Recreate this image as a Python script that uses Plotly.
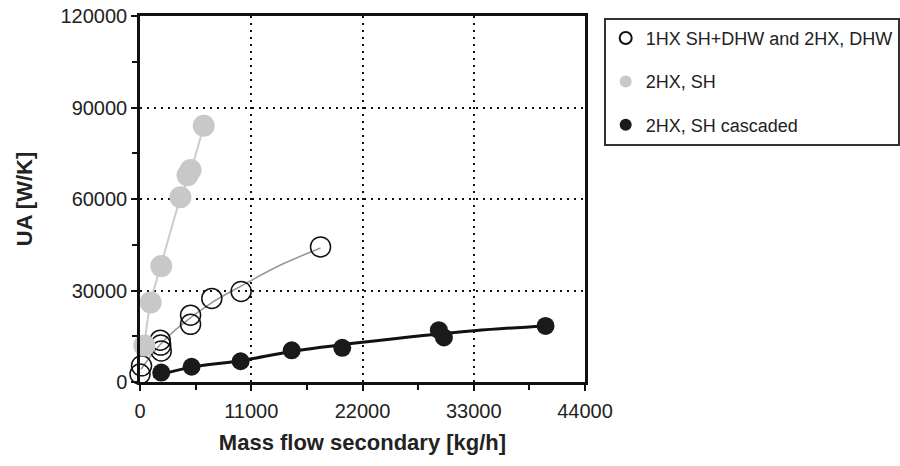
import plotly.graph_objects as go

# Data
open_x = [0, 150, 2000, 2050, 2100, 5000, 5000, 7100, 10000, 17850]
open_y = [2600, 5300, 13700, 12100, 10200, 21900, 18900, 27400, 29700, 44300]

gray_x = [430, 1050, 2100, 4000, 4700, 5000, 6300]
gray_y = [12000, 26100, 38000, 60600, 67800, 69500, 84000]

black_x = [2100, 5100, 9950, 15000, 20000, 29550, 30050, 40100]
black_y = [3100, 5000, 6800, 10400, 11200, 17000, 14600, 18400]

# Trend lines
open_trend_x = [100, 2000, 4000, 7000, 10000, 14000, 17850]
open_trend_y = [4200, 12300, 18500, 25800, 31500, 38500, 43900]
gray_trend_x = [430, 1050, 2100, 4000, 5000, 6300]
gray_trend_y = [12000, 26100, 38500, 60300, 69000, 84000]
black_trend_x = [1300, 5000, 10000, 15000, 22000, 33000, 40100]
black_trend_y = [1800, 4800, 7000, 10000, 13000, 16800, 18400]

names = ["1HX SH+DHW and 2HX, DHW", "2HX, SH", "2HX, SH cascaded"]
x_ticks = [0, 11000, 22000, 33000, 44000]
y_ticks = [0, 30000, 60000, 90000, 120000]

FONT = "Liberation Sans, Arial, sans-serif"

fig = go.Figure()
# trend lines
fig.add_trace(go.Scatter(x=open_trend_x, y=open_trend_y, mode="lines", line=dict(color="#999999", width=1.6, shape="spline"),
                         showlegend=False, hoverinfo="skip", cliponaxis=False))
fig.add_trace(go.Scatter(x=gray_trend_x, y=gray_trend_y, mode="lines", line=dict(color="#cccccc", width=2, shape="spline"),
                         showlegend=False, hoverinfo="skip", cliponaxis=False))
# markers
fig.add_trace(go.Scatter(x=open_x, y=open_y, mode="markers", name=names[0], legendgroup="a",
                         marker=dict(size=20, color="rgba(0,0,0,0)", line=dict(color="#111111", width=1.5)),
                         cliponaxis=False))
fig.add_trace(go.Scatter(x=gray_x, y=gray_y, mode="markers", name=names[1], legendgroup="b",
                         marker=dict(size=22, color="#c8c8c8", line=dict(width=0)), cliponaxis=False))
fig.add_trace(go.Scatter(x=black_trend_x, y=black_trend_y, mode="lines", line=dict(color="#111111", width=3, shape="spline"),
                         showlegend=False, hoverinfo="skip", cliponaxis=False))
fig.add_trace(go.Scatter(x=black_x, y=black_y, mode="markers", name=names[2], legendgroup="c",
                         marker=dict(size=18, color="#1a1a1a", line=dict(width=0)), cliponaxis=False))

axis_common = dict(
    showline=True, linecolor="#111111", linewidth=2.5, mirror=True,
    ticks="outside", ticklen=6, tickwidth=1.5, tickcolor="#111111",
    showgrid=True, gridcolor="#111111", gridwidth=1.5, griddash="2px,5px",
    zeroline=False, tickfont=dict(family=FONT, size=20, color="#222222"),
)

fig.update_xaxes(range=[0, 44000], tickvals=x_ticks, ticktext=[str(v) for v in x_ticks],
                 minor=dict(ticks="outside", ticklen=5, tickwidth=1.5, tickcolor="#111111", dtick=5500, tick0=0, showgrid=False),
                 title=dict(text="<b>Mass flow secondary [kg/h]</b>", font=dict(family=FONT, size=22, color="#222222"), standoff=14),
                 ticklabelstandoff=3,
                 **axis_common)
fig.update_yaxes(range=[0, 120000], tickvals=y_ticks, ticktext=[str(v) for v in y_ticks],
                 minor=dict(ticks="outside", ticklen=5, tickwidth=1.5, tickcolor="#111111", dtick=15000, tick0=0, showgrid=False),
                 title=dict(text="<b>UA [W/K]</b>", font=dict(family=FONT, size=22, color="#222222"), standoff=22),
                 **axis_common)

fig.update_layout(
    width=900, height=466,
    margin=dict(l=140, r=315, t=16, b=84, autoexpand=False),
    paper_bgcolor="white", plot_bgcolor="white",
    font=dict(family=FONT, color="#222222"),
    legend=dict(x=1.042, y=0.995, xanchor="left", yanchor="top",
                bordercolor="#333333", borderwidth=2, bgcolor="white",
                font=dict(family=FONT, size=18, color="#222222"),
                itemsizing="constant", tracegroupgap=17, itemwidth=30),
)

fig.write_html("out.html")
